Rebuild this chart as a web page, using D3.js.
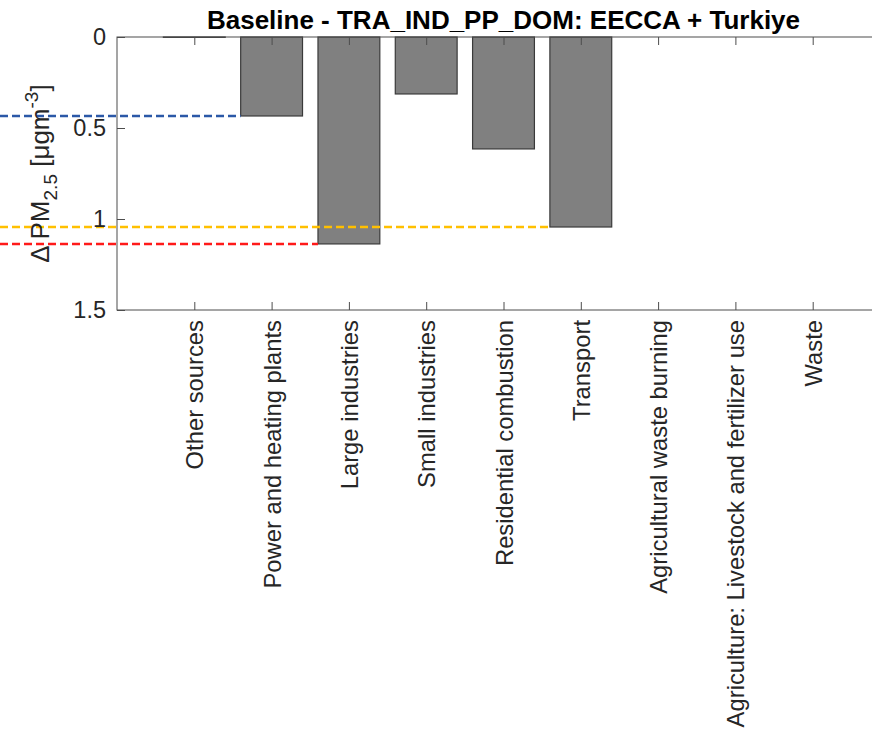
<!DOCTYPE html>
<html>
<head>
<meta charset="utf-8">
<script src="https://cdn.jsdelivr.net/npm/d3@7"></script>
<style>
  body { margin: 0; background: #fff; }
  text { font-family: "Liberation Sans", Arial, Helvetica, sans-serif; }
</style>
</head>
<body>
<svg id="chart"></svg>
<script>
var width = 872,
    height = 730;

var categories = ["Other sources", "Power and heating plants", "Large industries",
                  "Small industries", "Residential combustion", "Transport",
                  "Agricultural waste burning", "Agriculture: Livestock and fertilizer use", "Waste"];
var values = [0.002, 0.434, 1.137, 0.313, 0.615, 1.044, 0, 0, 0];
var yTicks = [0, 0.5, 1, 1.5];

// reference lines: which bar they come from and their colour
var refBars = ["Power and heating plants", "Transport", "Large industries"];
var refColors = ["#2b58a7", "#ffc000", "#ff1a1a"];

var margin = {left: 117, top: 37},
    plotW = 773,
    plotH = 273;

var svg = d3.select("#chart").attr("width", width).attr("height", height);

var x = d3.scaleLinear().domain([0, 10]).range([margin.left, margin.left + plotW]);
var y = d3.scaleLinear().domain([0, 1.5]).range([margin.top, margin.top + plotH]);
var barW = (x(1) - x(0)) * 0.8;

var axisColor = "#4d4d4d";

// bars
svg.selectAll("rect.bar")
    .data(values)
    .enter().append("rect")
    .attr("class", "bar")
    .attr("x", (d, i) => x(i + 1) - barW / 2)
    .attr("y", y(0))
    .attr("width", barW)
    .attr("height", d => y(d) - y(0))
    .attr("fill", "#808080")
    .attr("stroke", "#3a3a3a")
    .attr("stroke-width", 1.2);

// dashed lines from the left edge to each bar
refBars.forEach(function(name, k) {
    var i = categories.indexOf(name);
    svg.append("line")
        .attr("x1", 0)
        .attr("x2", x(i + 1) - barW / 2)
        .attr("y1", y(values[i]))
        .attr("y2", y(values[i]))
        .attr("stroke", refColors[k])
        .attr("stroke-width", 2.6)
        .attr("stroke-dasharray", "8,4");
});

// box
svg.append("rect")
    .attr("x", x(0))
    .attr("y", y(0))
    .attr("width", plotW)
    .attr("height", plotH)
    .attr("fill", "none")
    .attr("stroke", axisColor)
    .attr("stroke-width", 1);

// y axis, ticks inside
var yAxis = svg.append("g")
    .attr("transform", "translate(" + x(0) + ",0)")
    .call(d3.axisRight(y).tickValues(yTicks).tickSize(8).tickFormat(d3.format("")));
yAxis.select(".domain").remove();
yAxis.selectAll("line").attr("stroke", axisColor);
yAxis.selectAll("text")
    .attr("x", -11)
    .attr("text-anchor", "end")
    .attr("fill", "#262626")
    .style("font-size", "23.5px");

// bottom ticks and labels
var xb = svg.append("g").attr("transform", "translate(0," + y(1.5) + ")")
    .call(d3.axisTop(x).tickValues(d3.range(1, 10)).tickSize(8).tickFormat(""));
xb.select(".domain").remove();
xb.selectAll("line").attr("stroke", axisColor);

var xt = svg.append("g").attr("transform", "translate(0," + y(0) + ")")
    .call(d3.axisBottom(x).tickValues(d3.range(1, 10)).tickSize(8).tickFormat(""));
xt.select(".domain").remove();
xt.selectAll("line").attr("stroke", axisColor);

svg.selectAll("text.xlab")
    .data(categories)
    .enter().append("text")
    .attr("class", "xlab")
    .attr("transform", (d, i) => "translate(" + (x(i + 1) + 9) + "," + (y(1.5) + 10) + ") rotate(-90)")
    .attr("text-anchor", "end")
    .attr("fill", "#262626")
    .style("font-size", "23.8px")
    .text(d => d);

// y label
var yl = svg.append("text")
    .attr("transform", "translate(49," + ((y(0) + y(1.5)) / 2) + ") rotate(-90)")
    .attr("text-anchor", "middle")
    .attr("fill", "#262626")
    .style("font-size", "26px");
yl.append("tspan").text("\u0394 PM");
yl.append("tspan").attr("dy", 8).style("font-size", "19px").text("2.5");
yl.append("tspan").attr("dy", -8).text(" [\u03bcgm");
yl.append("tspan").attr("dy", -11).style("font-size", "19px").text("-3");
yl.append("tspan").attr("dy", 11).text("]");

// title
svg.append("text")
    .attr("x", x(5))
    .attr("y", 29)
    .attr("text-anchor", "middle")
    .attr("fill", "#000")
    .style("font-size", "26px")
    .style("font-weight", "bold")
    .text("Baseline - TRA_IND_PP_DOM: EECCA + Turkiye");
</script>
</body>
</html>
